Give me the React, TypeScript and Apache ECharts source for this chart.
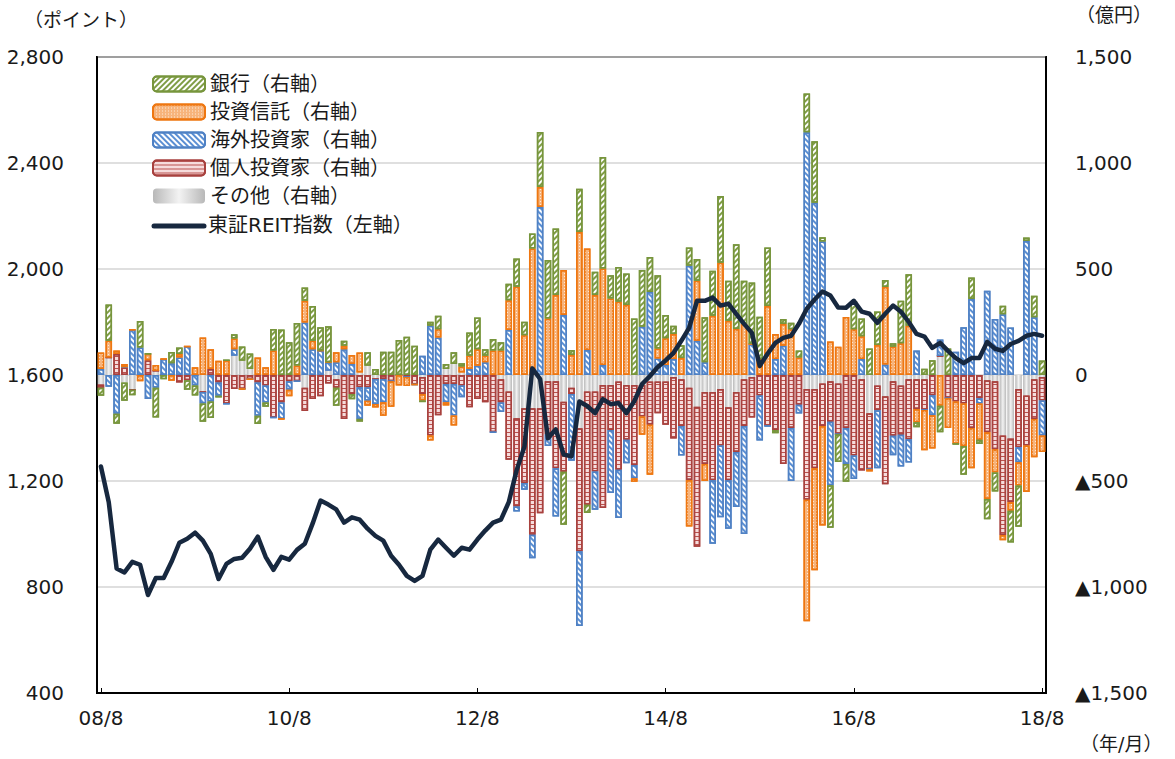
import React, { useEffect, useRef } from "react";
import * as echarts from "echarts";

// 億円, monthly 2008/8 - 2018/8
const bank = [
  -38, 172, -47, -86, -25, 125, 0, -140, -20, 53,
  31, -45, -47, -86, -78, -8, 0, 20, 67, 74,
  -39, -20, 102, 215, 155, 200, 63, 165, 110, 170,
  -85, 24, -24, -13, 63, 28, 110, 110, 165, 180,
  138, -8, 19, 63, 24, 55, 16, 110, 149, 31,
  55, 39, 78, 133, 63, 70, 259, 275, 314, -250,
  24, 204, -39, 110, 526, 110, 165, 149, 267, 267,
  165, 345, 110, 39, 60, 86, 102, 212, 212, 314,
  188, 400, 204, 290, 200, 275, -15, 24, 30, 33,
  183, 290, 20, -200, -130, -83, 133, 83, 125, 158,
  33, 17, 200, 243, -24, 30, 70, -125, 125, 0,
  -135, 102, -20, -95, -90, 40, -150, -195, 16, 102,
  68,
];
const trust = [
  78, 78, 16, 16, 0, -30, 30, 27, 0, -27,
  16, 0, 36, 177, 94, 67, 70, 50, 0, 0,
  83, 36, 115, 0, -30, 45, 102, 39, 0, 0,
  47, 16, 42, 94, -24, -16, -63, -120, -50, -42,
  0, -30, -24, 39, -16, -47, 28, 63, 78, 31,
  115, 115, 141, 416, 188, 597, 94, 267, 377, 212,
  94, 675, 479, 377, 455, 361, 345, 330, -16, -86,
  -235, 47, 126, 118, 80, -220, 283, -80, 280, 530,
  256, 217, 240, 0, 75, 326, 118, 102, 216, 83,
  -573, -481, -470, 158, 133, 274, 216, 108, -10, 141,
  365, 133, 150, 232, -63, -190, -157, -145, -140, -200,
  -200, -190, -170, -315, -110, -25, -40, -110, -220, -180,
  -78,
];
const foreign = [
  28, -55, -183, 0, 213, 130, -113, -60, 75, 56,
  83, 135, -50, -55, -125, -63, 0, 31, 0, 0,
  -157, -80, 0, -78, -40, 0, 248, 122, 115, 40,
  60, 122, 52, -149, -63, -118, -110, 0, 0, 0,
  0, 91, 232, 177, -86, -149, -55, 28, 44, 60,
  0, -45, 212, -24, -31, -110, 793, -55, -228, 283,
  -314, -353, 118, -181, 47, -298, -228, -110, -63, 228,
  392, 78, 47, 75, -140, 515, 162, 60, -300, -338,
  -228, -260, -510, 146, -212, 0, 75, 138, -250, -42,
  1145, 813, 630, -300, 0, -170, -110, 75, 0, -274,
  50, -91, -150, -110, 115, 0, -95, 78, 0, 110,
  225, 358, -25, 397, 264, 287, 224, -70, 632, 272,
  -165,
];
const individual = [
  -15, 0, 99, 36, 0, 0, 70, 0, 0, 0,
  -35, -25, 0, 0, 28, -35, -136, -66, -66, -20,
  -35, -50, -200, -130, -30, -30, -110, -113, -100, -40,
  -40, -207, -90, -58, -58, 0, -19, -30, 0, -10,
  -45, -80, -285, -190, -42, -42, -50, -152, -113, -129,
  -270, -110, -322, -416, -353, -597, -495, -250, -410, -330,
  -30, -580, -534, -377, -580, -212, -416, -259, -377, -149,
  -204, -149, -204, -290, -220, -435, -660, -340, -416, -267,
  -345, -283, -220, -190, -97, -240, -260, -420, -250, -140,
  -523, -374, -200, -190, -240, -250, -380, -430, -265, -116,
  -415, -257, -232, -283, -140, -145, -95, 0, -110, -125,
  -135, -250, -110, -245, -320, -470, -300, -275, -235, -188,
  -110,
];
const other = [
  -45, 83, 0, -35, -70, 0, 0, 20, 0, 0,
  0, 0, 0, -80, 0, 0, 0, 91, 67, 28,
  0, 0, 0, 0, 0, 0, -60, 0, 0, 20,
  -20, 0, 0, 12, 44, -19, 0, 0, 0, 0,
  0, -10, 0, 0, 28, 52, 12, 0, 0, 0,
  0, -20, -78, -204, -157, -157, -157, -30, -30, -126,
  -60, -251, -78, -78, -47, -47, -31, -47, -47, -47,
  -31, -31, -31, -10, -20, -60, -150, -80, -80, -66,
  -152, -80, -20, -10, 0, 0, 0, 0, 0, 0,
  -66, -66, -40, -30, -40, 0, 0, -20, -180, -50,
  -100, -30, -50, -20, -20, -20, 0, 90, 0, 0,
  0, 0, 0, -25, -30, -285, -300, -66, -97, -20,
  -10,
];
// 東証REIT指数 (points)
const reit = [
  1255, 1120, 870, 855, 895, 884, 770, 834, 834, 895,
  967, 982, 1005, 975, 925, 830, 887, 906, 910, 944,
  990, 914, 865, 914, 903, 940, 963, 1040, 1126, 1111,
  1093, 1043, 1063, 1054, 1020, 993, 975, 918, 884, 842,
  823, 842, 941, 979, 948, 918, 948, 941, 979, 1013,
  1043, 1054, 1120, 1240, 1330, 1625, 1585, 1361, 1395, 1300,
  1293, 1500, 1483, 1456, 1509, 1490, 1494, 1456, 1501, 1566,
  1596, 1630, 1655, 1683, 1729, 1778, 1880, 1880, 1892, 1862,
  1869, 1831, 1793, 1759, 1634, 1680, 1721, 1740, 1748, 1793,
  1850, 1885, 1915, 1900, 1855, 1854, 1880, 1839, 1831, 1797,
  1831, 1862, 1839, 1800, 1755, 1745, 1702, 1721, 1691, 1664,
  1645, 1664, 1664, 1725, 1699, 1691, 1717, 1729, 1748, 1755,
  1748,
];

const months: string[] = [];
for (let i = 0; i < reit.length; i++) {
  const t = 2008 * 12 + 7 + i;
  const y = Math.floor(t / 12);
  const m = (t % 12) + 1;
  months.push(`${String(y % 100).padStart(2, "0")}/${m}`);
}

const NAMES = [
  "銀行（右軸）",
  "投資信託（右軸）",
  "海外投資家（右軸）",
  "個人投資家（右軸）",
  "その他（右軸）",
  "東証REIT指数（左軸）",
];

const FONT = '"DejaVu Sans", "Noto Sans CJK JP", sans-serif';
const TXT = "#1a1a1a";
const LINE_COLOR = "#17283f";

const fmt = (v: number) => Math.abs(v).toLocaleString("en-US");

export default function App() {
  const ref = useRef<HTMLDivElement>(null);
  useEffect(() => {
    if (!ref.current) return;
    const chart = echarts.init(ref.current, undefined, { renderer: "svg" });
    const diag = (color: string, rot: number) => ({
      symbol: "rect",
      symbolSize: 1,
      color,
      dashArrayX: [1, 0],
      dashArrayY: [1.5, 2],
      rotation: rot,
    });
    const barBase = {
      type: "bar" as const,
      stack: "flow",
      yAxisIndex: 1,
      barCategoryGap: "16%",
      emphasis: { disabled: true },
    };
    const grayGrad = new echarts.graphic.LinearGradient(0, 0, 1, 0, [
      { offset: 0, color: "#b8b8b8" },
      { offset: 0.5, color: "#f3f3f3" },
      { offset: 1, color: "#b8b8b8" },
    ]);
    chart.setOption({
      animation: false,
      textStyle: { fontFamily: FONT },
      grid: {
        left: 97,
        right: 129,
        top: 57,
        bottom: 66,
        show: true,
        borderColor: "#000",
        borderWidth: 2,
        backgroundColor: "transparent",
      },
      legend: {
        orient: "vertical",
        left: 147,
        top: 69,
        itemWidth: 52,
        itemHeight: 15,
        itemGap: 8,
        textStyle: { fontFamily: FONT, fontSize: 20, color: TXT, lineHeight: 20 },
        data: NAMES.slice(0, 5),
        selectedMode: false,
      },
      xAxis: {
        type: "category",
        data: months,
        boundaryGap: true,
        axisLine: { onZero: false, lineStyle: { color: "#000", width: 2 } },
        axisTick: {
          show: true,
          inside: true,
          interval: 23,
          alignWithLabel: true,
          length: 5,
          lineStyle: { color: "#000" },
        },
        axisLabel: {
          interval: 23,
          margin: 15,
          fontSize: 20,
          color: TXT,
          fontFamily: FONT,
        },
        splitLine: { show: false },
      },
      yAxis: [
        {
          type: "value",
          min: 400,
          max: 2800,
          interval: 400,
          position: "left",
          axisLine: { show: true, lineStyle: { color: "#000", width: 2 } },
          axisTick: { show: false },
          axisLabel: {
            margin: 33,
            fontSize: 20,
            color: TXT,
            fontFamily: FONT,
            formatter: (v: number) => fmt(v),
          },
          splitLine: { show: true, lineStyle: { color: "#d4d4d4", width: 1.5 } },
        },
        {
          type: "value",
          min: -1500,
          max: 1500,
          interval: 500,
          position: "right",
          axisLine: { show: true, lineStyle: { color: "#000", width: 2 } },
          axisTick: { show: false },
          axisLabel: {
            margin: 29,
            fontSize: 20,
            color: TXT,
            fontFamily: FONT,
            formatter: (v: number) => (v < 0 ? "▲" + fmt(v) : fmt(v)),
          },
          splitLine: { show: false },
        },
      ],
      series: [
        {
          ...barBase,
          name: NAMES[4],
          data: other,
          itemStyle: { color: grayGrad, borderWidth: 0 },
        },
        {
          ...barBase,
          name: NAMES[3],
          data: individual,
          itemStyle: {
            color: "#f6dcdc",
            borderColor: "#a8413e",
            borderWidth: 1.5,
            decal: {
              symbol: "rect",
              symbolSize: 1,
              color: "#b9504d",
              dashArrayX: [1, 0],
              dashArrayY: [1, 2.2],
              rotation: 0,
            },
          },
        },
        {
          ...barBase,
          name: NAMES[2],
          data: foreign,
          itemStyle: {
            color: "#ffffff",
            borderColor: "#4f81c4",
            borderWidth: 1.5,
            decal: diag("#5b8fd3", Math.PI / 4),
          },
        },
        {
          ...barBase,
          name: NAMES[1],
          data: trust,
          itemStyle: {
            color: "#f7b47c",
            borderColor: "#ee7711",
            borderWidth: 1.5,
            decal: {
              symbol: "rect",
              symbolSize: 1,
              color: "#fde9d8",
              dashArrayX: [1, 1.5],
              dashArrayY: [1, 1.5],
              rotation: 0,
            },
          },
        },
        {
          ...barBase,
          name: NAMES[0],
          data: bank,
          itemStyle: {
            color: "#ffffff",
            borderColor: "#77953c",
            borderWidth: 1.5,
            decal: diag("#7f9d45", -Math.PI / 4),
          },
        },
        {
          type: "line",
          name: NAMES[5],
          data: reit,
          yAxisIndex: 0,
          symbol: "none",
          showSymbol: false,
          smooth: false,
          z: 10,
          lineStyle: { color: LINE_COLOR, width: 4.5, cap: "round", join: "round" },
          itemStyle: { color: LINE_COLOR },
          emphasis: { disabled: true },
        },
      ],
      graphic: [
        {
          type: "line",
          shape: { x1: 154, y1: 226, x2: 204, y2: 226 },
          style: { stroke: LINE_COLOR, lineWidth: 5, lineCap: "round" },
        },
        {
          type: "text",
          left: 208,
          top: 215,
          style: { text: NAMES[5], fontSize: 20, fontFamily: FONT, fill: TXT },
        },
        {
          type: "text",
          left: 24,
          top: 10,
          style: { text: "（ポイント）", fontSize: 19, fontFamily: FONT, fill: TXT },
        },
        {
          type: "text",
          left: 1076,
          top: 5,
          style: { text: "（億円）", fontSize: 19, fontFamily: FONT, fill: TXT },
        },
        {
          type: "text",
          left: 1080,
          top: 734,
          style: { text: "（年/月）", fontSize: 19, fontFamily: FONT, fill: TXT },
        },
      ],
    });
    return () => chart.dispose();
  }, []);
  return (
    <div
      ref={ref}
      style={{ position: "fixed", left: 0, top: 0, width: 1175, height: 759, background: "#fff" }}
    />
  );
}
